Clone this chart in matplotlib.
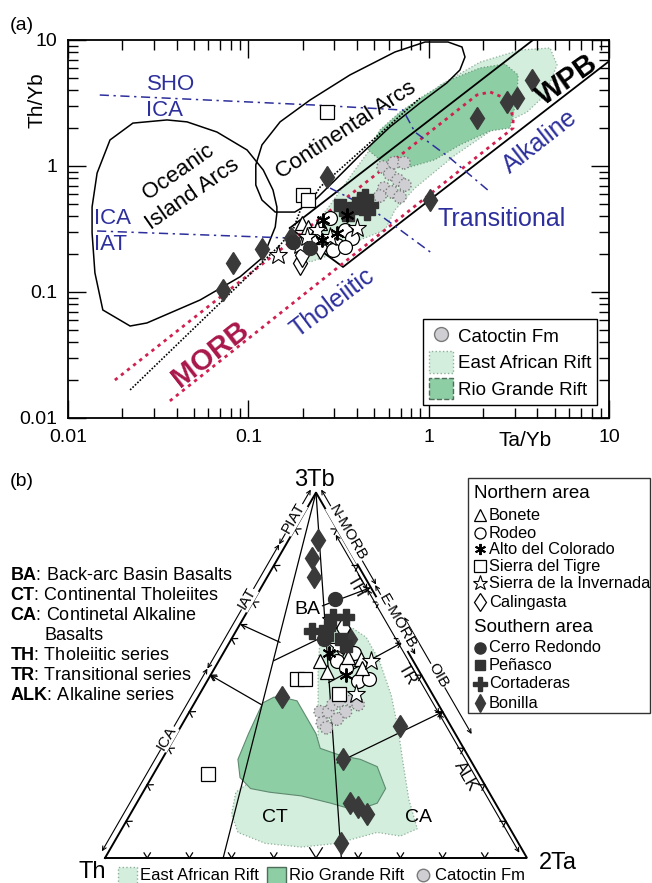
import numpy as np
import matplotlib.pyplot as plt
from matplotlib.lines import Line2D
from matplotlib.patches import Patch, Polygon, Rectangle

plt.rcParams['font.family'] = ['Liberation Sans', 'DejaVu Sans']
plt.rcParams['mathtext.fontset'] = 'custom'
plt.rcParams['mathtext.rm'] = 'Liberation Sans'
plt.rcParams['mathtext.bf'] = 'Liberation Sans:bold'

W, H = 652, 883
BLUE = '#2d2f9c'
CRIMSON = '#a8174a'
RED_DOT = '#d0204f'
EAR_C = '#d3eedc'
RGR_C = '#8dcea4'
DARK = '#3a3a3a'

# ---------------- (a) Th/Yb vs Ta/Yb ----------------
# field outlines
oia_ta = [0.0171, 0.0229, 0.0354, 0.0457, 0.067, 0.0984, 0.121, 0.137, 0.144, 0.144,
          0.141, 0.121, 0.090, 0.054, 0.0274, 0.0221, 0.0156, 0.0141, 0.0136, 0.0136, 0.0145]
oia_th = [1.61, 2.19, 2.32, 2.24, 1.86, 1.34, 0.929, 0.645, 0.473, 0.424,
          0.328, 0.190, 0.132, 0.0864, 0.0568, 0.0537, 0.072, 0.142, 0.294, 0.473, 0.879]
arc_ta = [0.110, 0.119, 0.150, 0.220, 0.366, 0.650, 0.955, 1.28, 1.53, 1.59, 1.49, 1.26,
          0.895, 0.610, 0.416, 0.303, 0.234, 0.181, 0.141, 0.119, 0.110]
arc_th = [1.02, 1.47, 2.24, 3.34, 5.28, 8.03, 9.64, 9.64, 8.80, 7.33, 5.78, 4.56,
          3.16, 2.04, 1.22, 0.774, 0.537, 0.431, 0.431, 0.537, 0.706]
ear_ta = [0.194, 0.220, 0.284, 0.390, 0.485, 0.693, 1.16, 1.93, 3.21, 4.71, 5.15, 4.42,
          3.51, 2.33, 1.40, 0.839, 0.650, 0.573, 0.416, 0.284, 0.220]
ear_th = [0.197, 0.299, 0.490, 0.929, 1.42, 2.32, 4.40, 6.68, 8.33, 8.64, 6.34, 3.66,
          2.68, 2.00, 1.22, 0.668, 0.448, 0.311, 0.259, 0.197, 0.173]
rgr_ta = [0.461, 0.537, 0.693, 0.955, 1.31, 1.93, 2.65, 3.13, 3.09, 2.94, 2.82, 2.19,
          1.49, 1.08, 0.787, 0.573]
rgr_th = [1.34, 1.93, 2.68, 3.66, 4.81, 6.00, 6.45, 5.28, 3.66, 2.54, 2.00, 1.90,
          1.47, 1.12, 0.982, 1.04]

# boundary lines
wpb_up_ta, wpb_up_th = [0.170, 3.79], [0.322, 10.0]
wpb_lo_ta, wpb_lo_th = [0.170, 0.335, 9.87], [0.322, 0.158, 6.68]
morb_ta = [0.0182, 1.85, 2.19, 2.55, 2.82, 2.94, 2.94, 0.0354]
morb_th = [0.0200, 3.66, 3.87, 3.53, 2.94, 2.41, 2.00, 0.0131]
trend_ta = [0.0221, 0.150, 0.177, 0.199, 0.229, 0.250, 0.895]
trend_th = [0.0167, 0.236, 0.311, 0.490, 0.557, 0.681, 3.46]
sho_ta = [0.0150, 0.229, 0.721, 0.839, 1.31, 2.19]
sho_th = [3.66, 3.05, 2.78, 1.86, 1.16, 0.622]
iat_ta, iat_th = [0.0145, 0.170], [0.305, 0.268]
tht_ta, tht_th = [0.284, 0.491, 1.02], [0.668, 0.448, 0.208]

# samples (Ta/Yb, Th/Yb)
catoctin_ta = [0.558, 0.642, 0.730, 0.610, 0.676, 0.739, 0.565, 0.537, 0.626, 0.693]
catoctin_th = [0.982, 1.06, 1.06, 0.864, 0.774, 0.706, 0.668, 0.578, 0.622, 0.568]
bonilla_ta = [0.0724, 0.0822, 0.119, 0.173, 0.273, 1.02, 1.85, 2.72, 3.09, 3.74]
bonilla_th = [0.104, 0.170, 0.219, 0.268, 0.818, 0.537, 2.41, 3.22, 3.46, 4.81]
tigre_ta, tigre_th = [0.273, 0.201, 0.214], [2.68, 0.589, 0.537]
penasco_ta, penasco_th = [0.322, 0.344, 0.380, 0.357], [0.490, 0.448, 0.464, 0.408]
cortaderas_ta, cortaderas_th = [0.444, 0.473, 0.455, 0.416], [0.568, 0.490, 0.431, 0.537]
bonete_ta, bonete_th = [0.199, 0.214, 0.250, 0.229], [0.353, 0.328, 0.353, 0.273]
invernada_ta = [0.146, 0.194, 0.240, 0.284, 0.401, 0.211]
invernada_th = [0.197, 0.236, 0.311, 0.273, 0.322, 0.273]
rodeo_ta = [0.284, 0.344, 0.376, 0.310, 0.295, 0.344]
rodeo_th = [0.387, 0.311, 0.268, 0.236, 0.216, 0.228]
alto_ta, alto_th = [0.260, 0.352, 0.310, 0.256], [0.373, 0.408, 0.294, 0.259]
calingasta_ta, calingasta_th = [0.194, 0.199, 0.250], [0.170, 0.197, 0.228]
redondo_ta, redondo_th = [0.220, 0.177], [0.223, 0.249]

# ---------------- (b) Th - 3Tb - 2Ta ----------------
# (Th, Tb, Ta) proportions in %
ear_tern = [(19, 60, 21), (14, 63, 23), (10, 63, 27), (8, 61, 32), (8, 54, 38), (10, 45, 46),
            (13, 35, 52), (16, 27, 57), (20, 16, 64), (22, 8, 70), (27, 6, 67), (32, 7, 61),
            (43, 4, 53), (52, 3, 45), (60, 4, 36), (65, 7, 28), (64, 12, 24), (60, 18, 22),
            (54, 21, 24), (42, 28, 30), (33, 33, 34), (28, 43, 29), (23, 53, 24)]
rgr_tern = [(36, 44, 20), (33, 43, 24), (33, 39, 28), (33, 34, 33), (34, 30, 36), (30, 28, 42),
            (26, 27, 47), (23, 25, 52), (24, 19, 57), (28, 15, 57), (34, 13, 53), (39, 15, 46),
            (45, 17, 38), (52, 18, 30), (56, 19, 25), (57, 22, 21), (55, 27, 18), (49, 34, 17),
            (41, 42, 16), (38, 44, 18)]
rays_tern = [[(0, 100, 0), (72, 0, 28)], [(0, 100, 0), (44, 0, 56)]]
join_tern = [(33, 54, 13), (17, 61, 22)]
perp_tern = [[(29, 59, 12), (36, 64, 0)], [(42, 42, 16), (50, 50, 0)],
             [(14, 69, 17), (0, 74, 26)], [(23, 48, 29), (0, 59, 41)],
             [(32, 26, 42), (0, 40, 60)]]

bonilla_tern = [(6, 87, 7), (10, 82, 8), (12, 77, 11), (36, 44, 20), (12, 36, 52), (30, 27, 43),
                (34, 15, 50), (33, 14, 53), (32, 12, 56), (42, 4, 54), (12, 60, 28)]
redondo_tern = [(10, 71, 19), (18, 60, 22)]
cortaderas_tern = [(13, 66, 21), (10, 66, 24), (20, 62, 18), (16, 63, 21)]
penasco_tern = [(17, 61, 22), (14, 60, 26), (14, 58, 28)]
invernada_tern = [(14, 65, 21), (16, 58, 26), (18, 45, 37), (10, 54, 36)]
bonete_tern = [(22, 54, 24), (22, 51, 27), (15, 55, 30), (12, 54, 33), (13, 52, 35)]
rodeo_tern = [(18, 54, 28), (13, 56, 31), (16, 49, 36), (13, 49, 38), (17, 52, 31)]
alto_tern = [(18, 50, 32), (19, 56, 25)]
tigre_tern = [(30, 49, 21), (28, 49, 23), (22, 45, 33), (64, 23, 13)]
calingasta_tern = [(12, 63, 25), (15, 58, 27)]
catoctin_tern = [(29, 40, 31), (30, 37, 33), (27, 40, 33), (25, 42, 33), (23, 43, 34),
                 (20, 43, 37), (19, 42, 39), (23, 40, 37), (30, 36, 35), (26, 38, 36)]

# series bars along the triangle edges: (label, start, end, label pos) as Tb fraction
left_series = [('PIAT', 1.0, 0.85, 0.92), ('IAT', 0.85, 0.51, 0.70), ('ICA', 0.51, 0.01, 0.32)]
right_inner = [('TH', 0.89, 0.74, 0.76), ('TR', 0.74, 0.40, 0.52), ('ALK', 0.40, 0.02, 0.24)]
right_outer = [('N-MORB', 1.0, 0.74, 0.88, 6), ('E-MORB', 0.74, 0.55, 0.64, 5),
               ('OIB', 0.64, 0.32, 0.48, 14)]

styles = {
    'Bonete': dict(marker='^', mfc='white', mec='k', ms=10, mew=0.9),
    'Rodeo': dict(marker='o', mfc='white', mec='k', ms=10, mew=0.9),
    'Alto del Colorado': dict(marker=(6, 2, 0), color='k', ms=10, mew=1.4),
    'Sierra del Tigre': dict(marker='s', mfc='white', mec='k', ms=10, mew=0.9),
    'Sierra de la Invernada': dict(marker='*', mfc='white', mec='k', ms=14, mew=0.8),
    'Calingasta': dict(marker='d', mfc='white', mec='k', ms=12, mew=0.9),
    'Cerro Redondo': dict(marker='o', mfc='#333333', mec='#333333', ms=10),
    'Peñasco': dict(marker='s', mfc='#333333', mec='#333333', ms=9),
    'Cortaderas': dict(marker='P', mfc='#333333', mec='#333333', ms=12),
    'Bonilla': dict(marker='d', mfc=DARK, mec=DARK, ms=11.5),
}


def F(x, y):
    # page pixel -> figure fraction
    return x / W, 1 - y / H


def tern(pts):
    p = np.asarray(pts, float)
    p = p / p.sum(axis=1, keepdims=True)
    return p[:, 2] + p[:, 1] / 2, p[:, 1] * np.sqrt(3) / 2


R3 = np.sqrt(3) / 2
PX = 1 / 422.0


def left_pt(f, off=0):
    return f / 2 - off * R3 * PX, f * R3 + off * 0.5 * PX


def right_pt(f, off=0):
    return 1 - f / 2 + off * R3 * PX, f * R3 + off * 0.5 * PX


fig = plt.figure(figsize=(W / 100, H / 100), dpi=100)

# ======== panel (a) ========
ax = fig.add_axes([68 / W, 1 - 418 / H, 541 / W, 378 / H])
ax.set_xscale('log')
ax.set_yscale('log')
ax.set_xlim(0.01, 10)
ax.set_ylim(0.01, 10)
ax.set_xticks([0.01, 0.1, 1, 10], ['0.01', '0.1', '1', '10'])
ax.set_yticks([0.01, 0.1, 1, 10], ['0.01', '0.1', '1', '10'])
ax.tick_params(which='both', direction='in', top=True, right=True, width=1, labelsize=14)
ax.tick_params(which='major', length=13, pad=8)
ax.tick_params(which='minor', length=7)
for s in ax.spines.values():
    s.set_linewidth(1.3)

ax.fill(ear_ta, ear_th, fc=EAR_C, ec='#8fb09a', ls=':', lw=0.9, zorder=1)
ax.fill(rgr_ta, rgr_th, fc=RGR_C, ec='#6f9a80', ls=':', lw=0.9, zorder=1.1)
ax.fill(oia_ta, oia_th, fc='none', ec='k', lw=1.1, zorder=2)
ax.fill(arc_ta, arc_th, fc='none', ec='k', lw=1.1, zorder=2)
ax.plot(wpb_up_ta, wpb_up_th, color='k', lw=1.3, zorder=2)
ax.plot(wpb_lo_ta, wpb_lo_th, color='k', lw=1.3, zorder=2)
ax.plot(morb_ta, morb_th, color=RED_DOT, lw=2, ls=(0, (1.2, 1.6)), zorder=2)
ax.plot(trend_ta, trend_th, color='k', lw=1.2, ls=(0, (1, 1)), zorder=2)
for xs, ys in [(sho_ta, sho_th), (iat_ta, iat_th), (tht_ta, tht_th)]:
    ax.plot(xs, ys, color=BLUE, lw=1.1, ls=(0, (6, 3, 1.5, 3)), zorder=2)

ax.scatter(catoctin_ta, catoctin_th, s=80, c='#cfcfd3', edgecolors='#7a7a7a',
           linewidths=1, linestyle=':', zorder=3)
groups_a = [('Bonilla', bonilla_ta, bonilla_th), ('Sierra del Tigre', tigre_ta, tigre_th),
            ('Calingasta', calingasta_ta, calingasta_th), ('Rodeo', rodeo_ta, rodeo_th),
            ('Bonete', bonete_ta, bonete_th), ('Sierra de la Invernada', invernada_ta, invernada_th),
            ('Cerro Redondo', redondo_ta, redondo_th), ('Peñasco', penasco_ta, penasco_th),
            ('Cortaderas', cortaderas_ta, cortaderas_th), ('Alto del Colorado', alto_ta, alto_th)]
for name, xs, ys in groups_a:
    ax.plot(xs, ys, ls='none', zorder=4, **styles[name])

leg_handles = [Line2D([], [], ls='none', marker='o', ms=10, mfc='#cfcfd3', mec='#7a7a7a', mew=1),
               Patch(fc=EAR_C, ec='#8fb09a', ls=':'),
               Patch(fc=RGR_C, ec='#4f6d5a', ls='--')]
leg = ax.legend(leg_handles, ['Catoctin Fm', 'East African Rift', 'Rio Grande Rift'],
                loc='lower right', bbox_to_anchor=((597 - 68) / 541, (418 - 405) / 378),
                fontsize=13.5, fancybox=False, edgecolor='k', framealpha=1,
                borderpad=0.3, labelspacing=0.25, handlelength=1.3, handleheight=1.4,
                handletextpad=0.25, borderaxespad=0)
leg.get_frame().set_linewidth(1.0)

fig.text(*F(22, 25), '(a)', fontsize=14, ha='center', va='center')
fig.text(*F(37, 100), 'Th/Yb', fontsize=15, rotation=90, ha='center', va='center')
fig.text(*F(525, 440), 'Ta/Yb', fontsize=15, ha='center', va='center')
for txt, x, y in [('SHO', 171, 84), ('ICA', 165, 110), ('ICA', 112, 218), ('IAT', 111, 244)]:
    fig.text(*F(x, y), txt, color=BLUE, fontsize=16, ha='center', va='center')
rot = dict(ha='center', va='center', rotation_mode='anchor')
fig.text(*F(178, 172), 'Oceanic', fontsize=16, rotation=35, **rot)
fig.text(*F(192, 194), 'Island Arcs', fontsize=16, rotation=35, **rot)
fig.text(*F(346, 130), 'Continental Arcs', fontsize=16, rotation=33, **rot)
fig.text(*F(567, 80), 'WPB', fontsize=21, fontweight='bold', rotation=35, **rot)
fig.text(*F(540, 142), 'Alkaline', fontsize=18, color=BLUE, rotation=38, **rot)
fig.text(*F(502, 219), 'Transitional', fontsize=18, color=BLUE, ha='center', va='center')
fig.text(*F(333, 303), 'Tholeiitic', fontsize=18, color=BLUE, rotation=37, **rot)
fig.text(*F(210, 354), 'MORB', fontsize=21, fontweight='bold', color=CRIMSON, rotation=38, **rot)

# ======== panel (b) ========
axb = fig.add_axes([0, 0, 1, (H - 460) / H])
axb.set_xlim(-105 / 422, (W - 105) / 422)
axb.set_ylim((858 - H) / 422, (858 - 460) / 422)
axb.axis('off')

ex, ey = tern(ear_tern)
axb.add_patch(Polygon(np.c_[ex, ey], fc=EAR_C, ec='#8fb09a', ls=':', lw=0.9, zorder=1))
rx, ry = tern(rgr_tern)
axb.add_patch(Polygon(np.c_[rx, ry], fc=RGR_C, ec='#5f8a70', lw=0.8, zorder=1.1))

tx, ty = tern([(100, 0, 0), (0, 100, 0), (0, 0, 100), (100, 0, 0)])
axb.plot(tx, ty, color='k', lw=1.4, zorder=3, solid_joinstyle='miter')
for seg in rays_tern:
    x, y = tern(seg)
    axb.plot(x, y, color='k', lw=0.9, zorder=2)
x, y = tern(join_tern)
axb.plot(x, y, color='k', lw=0.9, zorder=2)
for seg in perp_tern:
    x, y = tern(seg)
    axb.annotate('', xy=(x[1], y[1]), xytext=(x[0], y[0]), zorder=2,
                 arrowprops=dict(arrowstyle='->', color='k', lw=0.9, shrinkA=0, shrinkB=0,
                                 mutation_scale=9))

# chevron ticks every 10 % along the edges
edges = [((0, 0), (1, 0), (0, 1)), ((0, 0), (0.5, R3), (R3, -0.5)), ((1, 0), (0.5, R3), (-R3, -0.5))]
for (x0, y0), (x1, y1), (nx, ny) in edges:
    for k in range(1, 10):
        px_, py_ = x0 + (x1 - x0) * k / 10, y0 + (y1 - y0) * k / 10
        size = (12 if (k == 5 and ny == 1) else 6) * PX
        for sgn in (1, -1):
            a = np.arctan2(ny, nx) + sgn * np.radians(32)
            axb.plot([px_, px_ + size * np.cos(a)], [py_, py_ + size * np.sin(a)],
                     color='k', lw=0.9, zorder=3)

arrow_kw = dict(arrowstyle='<->', color='k', lw=0.8, shrinkA=0, shrinkB=0, mutation_scale=7)
lab_kw = dict(fontsize=11, ha='center', va='center', rotation_mode='anchor', zorder=5,
              bbox=dict(fc='white', ec='none', pad=0.4))
for name, f0, f1, fl in left_series:
    axb.annotate('', xy=left_pt(f1, 6), xytext=left_pt(f0, 6), arrowprops=arrow_kw)
    axb.text(*left_pt(fl, 7), name, rotation=60, **lab_kw)
for name, f0, f1, fl in right_inner:
    axb.annotate('', xy=right_pt(f1, -4), xytext=right_pt(f0, -4), arrowprops=arrow_kw)
    axb.text(*right_pt(fl, -12), name, rotation=-60, fontsize=12, ha='center', va='center',
             rotation_mode='anchor', zorder=5)
for name, f0, f1, fl, off in right_outer:
    axb.annotate('', xy=right_pt(f1, off), xytext=right_pt(f0, off), arrowprops=arrow_kw)
    axb.text(*right_pt(fl, off + 1), name, rotation=-60, **lab_kw)

axb.scatter(*tern(catoctin_tern), s=80, c='#cfcfd3', edgecolors='#7a7a7a',
            linewidths=1, linestyle=':', zorder=4)
groups_b = [('Bonilla', bonilla_tern), ('Sierra del Tigre', tigre_tern),
            ('Calingasta', calingasta_tern), ('Rodeo', rodeo_tern), ('Bonete', bonete_tern),
            ('Sierra de la Invernada', invernada_tern), ('Cerro Redondo', redondo_tern),
            ('Peñasco', penasco_tern), ('Cortaderas', cortaderas_tern),
            ('Alto del Colorado', alto_tern)]
for name, pts in groups_b:
    x, y = tern(pts)
    axb.plot(x, y, ls='none', zorder=5, **styles[name])

fig.text(*F(22, 482), '(b)', fontsize=14, ha='center', va='center')
fig.text(*F(314, 480), '3Tb', fontsize=17, ha='center', va='center')
fig.text(*F(92, 872), 'Th', fontsize=17, ha='center', va='center')
fig.text(*F(558, 863), '2Ta', fontsize=17, ha='center', va='center')
for txt, x, y in [('BA', 307, 610), ('CT', 275, 817), ('CA', 418, 817)]:
    fig.text(*F(x, y), txt, fontsize=14, ha='center', va='center')

key_lines = [(r'$\mathbf{BA}$: Back-arc Basin Basalts', 10, 575),
             (r'$\mathbf{CT}$: Continental Tholeiites', 10, 595),
             (r'$\mathbf{CA}$: Continetal Alkaline', 10, 615),
             ('Basalts', 45, 635),
             (r'$\mathbf{TH}$: Tholeiitic series', 10, 655),
             (r'$\mathbf{TR}$: Transitional series', 10, 675),
             (r'$\mathbf{ALK}$: Alkaline series', 10, 695)]
for txt, x, y in key_lines:
    fig.text(*F(x, y), txt, fontsize=13, ha='left', va='center')

# locality key
x0, y0 = F(468, 713)
x1, y1 = F(650, 478)
fig.patches.append(Rectangle((x0, y0), x1 - x0, y1 - y0, transform=fig.transFigure,
                             fc='white', ec='#333333', lw=1.0, zorder=4))
fig.text(*F(474, 493), 'Northern area', fontsize=13.5, ha='left', va='center', zorder=6)
fig.text(*F(474, 627), 'Southern area', fontsize=13.5, ha='left', va='center', zorder=6)
key_rows = [('Bonete', 515), ('Rodeo', 533), ('Alto del Colorado', 549), ('Sierra del Tigre', 566),
            ('Sierra de la Invernada', 583), ('Calingasta', 602), ('Cerro Redondo', 648),
            ('Peñasco', 665), ('Cortaderas', 684), ('Bonilla', 703)]
for name, y in key_rows:
    st = dict(styles[name])
    st['ms'] = st['ms'] * 0.8
    fig.add_artist(Line2D([480 / W], [1 - y / H], ls='none', transform=fig.transFigure,
                          zorder=6, **st))
    fig.text(*F(489, y), name, fontsize=11.8, ha='left', va='center', zorder=6)

# fields key along the base
for (xa, xb) in [(118, 137), (267, 286)]:
    pa, pb = F(xa, 886), F(xb, 867)
    fc, ec, ls = (EAR_C, '#8fb09a', ':') if xa == 118 else (RGR_C, '#4f6d5a', '-')
    fig.patches.append(Rectangle(pa, pb[0] - pa[0], pb[1] - pa[1], transform=fig.transFigure,
                                 fc=fc, ec=ec, ls=ls, lw=1.0))
fig.text(*F(140, 875), 'East African Rift', fontsize=12, ha='left', va='center')
fig.text(*F(289, 875), 'Rio Grande Rift', fontsize=12, ha='left', va='center')
fig.add_artist(Line2D([423 / W], [1 - 875 / H], ls='none', marker='o', ms=9, mfc='#cfcfd3',
                      mec='#7a7a7a', mew=1, transform=fig.transFigure))
fig.text(*F(435, 875), 'Catoctin Fm', fontsize=12, ha='left', va='center')

fig.savefig('out.png', dpi=100)
